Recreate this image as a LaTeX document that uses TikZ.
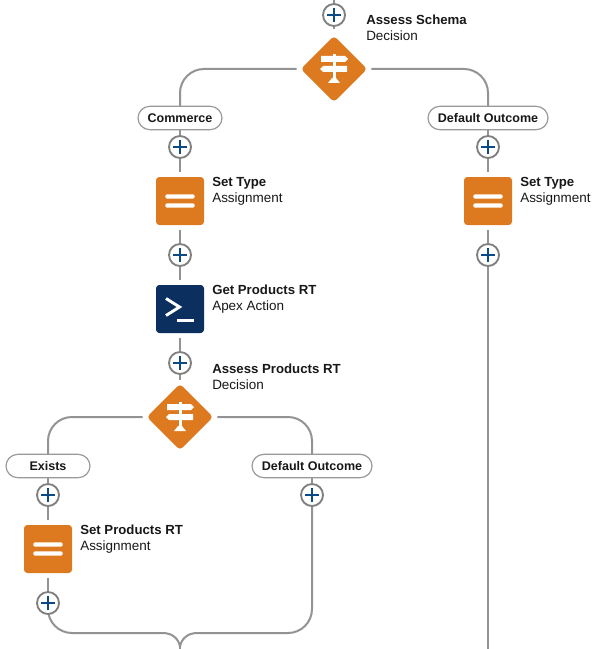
\documentclass[tikz,border=0pt]{standalone}
\usepackage{fontspec}
\setmainfont{Liberation Sans}
\usetikzlibrary{shapes.geometric}
\definecolor{orangeic}{HTML}{DD7A20}
\definecolor{navyic}{HTML}{0B2F5E}
\definecolor{linec}{HTML}{939393}
\definecolor{ringc}{HTML}{808080}
\definecolor{plusc}{HTML}{0B4A85}
\definecolor{pillc}{HTML}{999999}
\definecolor{textc}{HTML}{181818}
\newcommand{\nameb}[1]{{\fontsize{9.9pt}{12pt}\selectfont\bfseries #1}}
\tikzset{
  conn/.style={draw=linec,line width=1.5pt},
  curve/.style={conn,rounded corners=18pt},
  plusbtn/.style={circle,draw=ringc,fill=white,line width=1.4pt,minimum size=16.5pt,inner sep=0pt,
    path picture={\draw[plusc,line width=1.4pt]
      ([xshift=-5.25pt]path picture bounding box.center) -- ([xshift=5.25pt]path picture bounding box.center)
      ([yshift=-5.25pt]path picture bounding box.center) -- ([yshift=5.25pt]path picture bounding box.center);}},
  pill/.style={draw=pillc,fill=white,line width=.9pt,rounded corners=8.8pt,minimum height=17.5pt,inner sep=0pt,
    text=textc,font=\fontsize{9.4pt}{11pt}\selectfont\bfseries},
  decision/.style={diamond,fill=orangeic,rounded corners=3pt,minimum width=50pt,minimum height=50pt,inner sep=0pt},
  assign/.style={rectangle,fill=orangeic,rounded corners=2.5pt,minimum size=36pt,inner sep=0pt},
  apex/.style={rectangle,fill=navyic,rounded corners=2.5pt,minimum size=36pt,inner sep=0pt},
  lab/.style={anchor=west,inner sep=0pt,align=left,text=textc,font=\fontsize{10.1pt}{12pt}\selectfont},
  signpost/.pic={
    \fill[white] (-13,-13) -- (11,-13) -- (14,-10) -- (11,-7) -- (-13,-7) -- cycle;
    \fill[white] (-11,-3) -- (13,-3) -- (13,3) -- (-11,3) -- (-14,0) -- cycle;
    \fill[white] (-1.5,-15) rectangle (1.5,10);
    \fill[white] (-6,14) -- (-2,9) -- (2,9) -- (6,14) -- cycle;
  },
  bars/.pic={
    \fill[white,rounded corners=1.5pt] (-14.7,-6.7) rectangle (14.7,-2.3);
    \fill[white,rounded corners=1.5pt] (-14.7,2.3) rectangle (14.7,6.7);
  },
  prompt/.pic={
    \draw[white,line width=2.2pt,miter limit=10] (-14,-10.5) -- (-0.5,-2) -- (-14,6.5);
    \draw[white,line width=2.2pt] (-3,11.5) -- (14,11.5);
  }
}
\begin{document}
\begin{tikzpicture}[x=0.75pt,y=-0.75pt]
\useasboundingbox (0,0) rectangle (605,649);
\coordinate (topend) at (334,0);
\coordinate (merge) at (180,649);
\coordinate (mergeL) at (165,633);
\coordinate (mergeR) at (195,633);
\coordinate (mergeC) at (180,647);
\coordinate (rightend) at (488,649);
% connector ends: named points at the node centres
\coordinate (p0) at (334,15);
\coordinate (d1) at (334,69);
\coordinate (cCommerce) at (180,118);
\coordinate (p1) at (180,147);
\coordinate (a1) at (180,201);
\coordinate (p2) at (180,255);
\coordinate (g1) at (180,309);
\coordinate (p3) at (180,363);
\coordinate (d2) at (180,417);
\coordinate (cExists) at (48,466);
\coordinate (p4) at (48,495);
\coordinate (a2) at (48,549);
\coordinate (p5) at (48,603);
\coordinate (cDef2) at (312,466);
\coordinate (p6) at (312,495);
\coordinate (cDef1) at (488,118);
\coordinate (p7) at (488,147);
\coordinate (a3) at (488,201);
\coordinate (p8) at (488,255);
% connectors
\draw[conn] (topend) -- (p0);
\draw[conn,shorten >=30pt] (p0) -- (d1);
\draw[curve,shorten <=28pt] (d1) -| (cCommerce);
\draw[curve,shorten <=28pt] (d1) -| (cDef1);
\draw[conn] (cCommerce) -- (p1);
\draw[conn,shorten >=22pt] (p1) -- (a1);
\draw[conn,shorten <=22pt] (a1) -- (p2);
\draw[conn,shorten >=22pt] (p2) -- (g1);
\draw[conn,shorten <=22pt] (g1) -- (p3);
\draw[conn,shorten >=28pt] (p3) -- (d2);
\draw[curve,shorten <=28pt] (d2) -| (cExists);
\draw[curve,shorten <=28pt] (d2) -| (cDef2);
\draw[conn] (cExists) -- (p4);
\draw[conn,shorten >=22pt] (p4) -- (a2);
\draw[conn,shorten <=22pt] (a2) -- (p5);
\draw[conn] (cDef2) -- (p6);
\draw[conn] (cDef1) -- (p7);
\draw[conn,shorten >=22pt] (p7) -- (a3);
\draw[conn,shorten <=22pt] (a3) -- (p8);
\draw[conn] (p8) -- (rightend);
\draw[curve] (p5) |- (mergeL);
\draw[curve] (p6) |- (mergeR);
\draw[conn] (mergeL) .. controls (171,633.5) and (179,638) .. (mergeC);
\draw[conn] (mergeR) .. controls (189,633.5) and (181,638) .. (mergeC);
\draw[conn] (mergeC) -- (merge);
% nodes
\node[plusbtn] (n0) at (p0) {};
\node[decision] (nd1) at (d1) {};
\node[pill,minimum width=63pt] (nCommerce) at (cCommerce) {Commerce};
\node[plusbtn] (n1) at (p1) {};
\node[assign] (na1) at (a1) {};
\node[plusbtn] (n2) at (p2) {};
\node[apex] (ng1) at (g1) {};
\node[plusbtn] (n3) at (p3) {};
\node[decision] (nd2) at (d2) {};
\node[pill,minimum width=63pt] (nExists) at (cExists) {Exists};
\node[plusbtn] (n4) at (p4) {};
\node[assign] (na2) at (a2) {};
\node[plusbtn] (n5) at (p5) {};
\node[pill,minimum width=90pt] (nDef2) at (cDef2) {Default Outcome};
\node[plusbtn] (n6) at (p6) {};
\node[pill,minimum width=90pt] (nDef1) at (cDef1) {Default Outcome};
\node[plusbtn] (n7) at (p7) {};
\node[assign] (na3) at (a3) {};
\node[plusbtn] (n8) at (p8) {};
% icons
\pic at (d1) {signpost};
\pic at (d2) {signpost};
\pic at (a1) {bars};
\pic at (a2) {bars};
\pic at (a3) {bars};
\pic at (g1) {prompt};
% labels
\node[lab] (t1) at (366,28) {\nameb{Assess Schema}\\Decision};
\node[lab] (t2) at (212,191) {\nameb{Set Type}\\Assignment};
\node[lab] (t3) at (212,299) {\nameb{Get Products RT}\\Apex Action};
\node[lab] (t4) at (212,377) {\nameb{Assess Products RT}\\Decision};
\node[lab] (t5) at (80,539) {\nameb{Set Products RT}\\Assignment};
\node[lab] (t6) at (520,191) {\nameb{Set Type}\\Assignment};
\end{tikzpicture}
\end{document}
